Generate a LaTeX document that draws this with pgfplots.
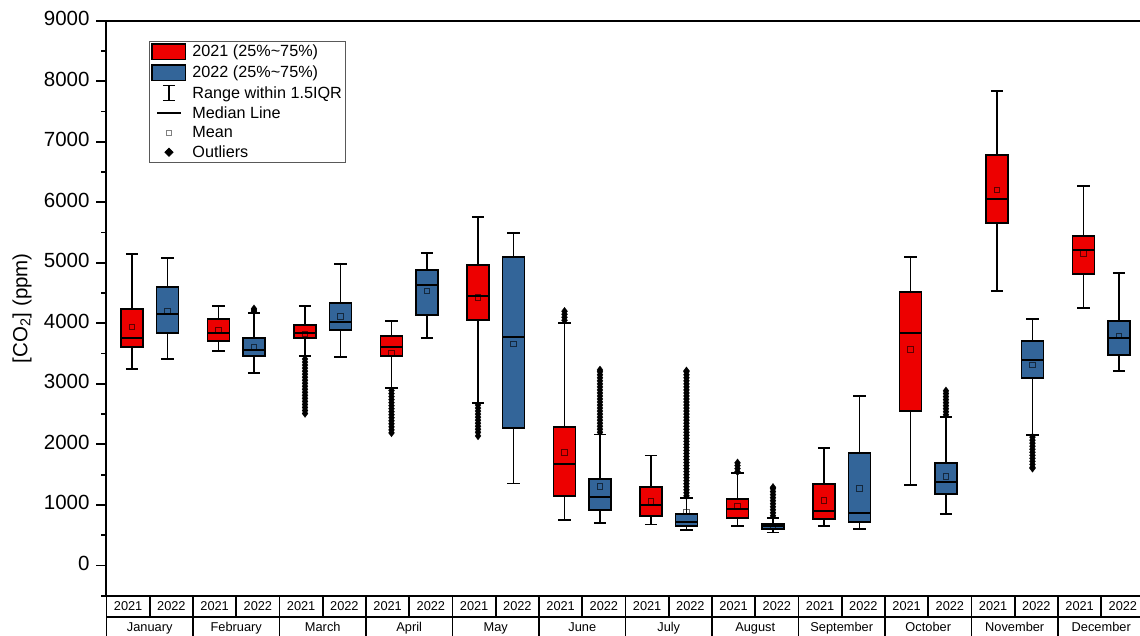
\documentclass[border=0pt]{standalone}
\usepackage{fontspec}
\setmainfont{Liberation Sans}
\usepackage{pgfplots}
\pgfplotsset{compat=1.18}

\definecolor{red21}{RGB}{237,0,0}
\definecolor{blue22}{RGB}{51,101,153}

\pgfplotsset{
  outl/.style={forget plot, only marks, mark=diamond*, mark size=4pt,
    mark options={fill=black, draw=black, line width=0.2pt}},
}

% one box: fill colour, position, lower whisker, Q1, median, Q3, upper whisker, mean
\newcommand{\bx}[8]{%
  \pgfmathsetmacro{\bL}{#2-0.255}\pgfmathsetmacro{\bR}{#2+0.255}%
  \pgfmathsetmacro{\wL}{#2-0.14}\pgfmathsetmacro{\wR}{#2+0.14}%
  \edef\doit{%
    \noexpand\addplot[forget plot, black, line width=1.8pt] coordinates {(#2,#3) (#2,#4)};
    \noexpand\addplot[forget plot, black, line width=1.8pt] coordinates {(#2,#6) (#2,#7)};
    \noexpand\addplot[forget plot, black, line width=1.8pt] coordinates {(\wL,#3) (\wR,#3)};
    \noexpand\addplot[forget plot, black, line width=1.8pt] coordinates {(\wL,#7) (\wR,#7)};
    \noexpand\addplot[forget plot, fill=#1, draw=black, line width=1.9pt]
      coordinates {(\bL,#4) (\bR,#4) (\bR,#6) (\bL,#6)} -- cycle;
    \noexpand\addplot[forget plot, black, line width=1.9pt] coordinates {(\bL,#5) (\bR,#5)};
    \noexpand\addplot[forget plot, only marks, mark=square, mark size=2.8pt,
      mark options={draw=black, draw opacity=0.6, fill=none, line width=0.7pt}]
      coordinates {(#2,#8)};
  }\doit}

\begin{document}
\begin{tikzpicture}
\begin{axis}[
  scale only axis, width=1038pt, height=575pt,
  xmin=0, xmax=24, ymin=-500, ymax=9000,
  clip=false,
  axis line style={line width=2pt},
  ytick={0,1000,...,9000},
  minor ytick={-500,500,...,8500},
  ytick pos=left,
  tick align=outside,
  major tick length=10pt, minor tick length=5pt,
  every tick/.style={black, line width=1.8pt},
  /pgf/number format/assume math mode=true,
  /pgf/number format/1000 sep={},
  yticklabel style={font=\fontsize{20.5}{24}\selectfont, xshift=-3.5pt},
  xtick={0.5,1.5,...,23.5},
  xticklabels={2021,2022,2021,2022,2021,2022,2021,2022,2021,2022,2021,2022,
               2021,2022,2021,2022,2021,2022,2021,2022,2021,2022,2021,2022},
  xtick style={draw=none},
  typeset ticklabels with strut,
  xticklabel style={anchor=center, yshift=-2.1pt, font=\fontsize{12.8}{15}\selectfont},
  extra x ticks={1,3,...,23},
  extra x tick labels={January,February,March,April,May,June,July,August,
                       September,October,November,December},
  extra x tick style={major tick length=0pt, xticklabel style={yshift=-30.7pt}},
  ylabel={[CO\textsubscript{2}] (ppm)},
  every axis y label/.style={at={(axis description cs:-0.0814,0.5)}, rotate=90,
    anchor=center, font=\fontsize{20.5}{24}\selectfont},
  legend style={at={(axis description cs:0.041,0.965)}, anchor=north west,
    draw=black!65, line width=0.8pt, fill=white,
    font=\fontsize{16.2}{19}\selectfont,
    inner xsep=2pt, inner ysep=2pt, row sep=3.6pt,
    cells={anchor=west}, nodes={inner sep=1pt}},
]

% legend
\addlegendimage{legend image code/.code={\path[draw=none] (0pt,-8pt) rectangle (40pt,8pt);
  \draw[fill=red21, draw=black, line width=1.6pt] (0.8pt,-7.8pt) rectangle (34.2pt,7.8pt);}}
\addlegendentry{2021 (25\%\textasciitilde75\%)}
\addlegendimage{legend image code/.code={\path[draw=none] (0pt,-8pt) rectangle (40pt,8pt);
  \draw[fill=blue22, draw=black, line width=1.6pt] (0.8pt,-7.8pt) rectangle (34.2pt,7.8pt);}}
\addlegendentry{2022 (25\%\textasciitilde75\%)}
\addlegendimage{legend image code/.code={\path[draw=none] (0pt,-8pt) rectangle (40pt,8pt);
  \draw[line width=1.6pt] (17.5pt,-7.5pt) -- (17.5pt,7.5pt)
    (11.5pt,7.5pt) -- (23.5pt,7.5pt) (11.5pt,-7.5pt) -- (23.5pt,-7.5pt);}}
\addlegendentry{Range within 1.5IQR}
\addlegendimage{legend image code/.code={\path[draw=none] (0pt,-8pt) rectangle (40pt,8pt);
  \draw[line width=1.6pt] (6pt,0pt) -- (30pt,0pt);}}
\addlegendentry{Median Line}
\addlegendimage{legend image code/.code={\path[draw=none] (0pt,-8pt) rectangle (40pt,8pt);
  \draw[black!50, line width=0.7pt] (15pt,-2.6pt) rectangle (20pt,2.6pt);}}
\addlegendentry{Mean}
\addlegendimage{legend image code/.code={\path[draw=none] (0pt,-8pt) rectangle (40pt,8pt);
  \fill[black] (17.5pt,-4pt) -- (21.5pt,0pt) -- (17.5pt,4pt) -- (13.5pt,0pt) -- cycle;}}
\addlegendentry{Outliers}

% January
\bx{red21}{0.59}{3240}{3603}{3752}{4231}{5150}{3939}
\bx{blue22}{1.41}{3410}{3835}{4159}{4600}{5084}{4208}
% February
\bx{red21}{2.59}{3542}{3712}{3845}{4071}{4286}{3894}
\bx{blue22}{3.41}{3184}{3460}{3559}{3752}{4176}{3608}
\addplot[outl] coordinates {(3.41,4200) (3.41,4220) (3.41,4240)};
% March
\bx{red21}{4.59}{3460}{3757}{3845}{3972}{4286}{3823}
\addplot[outl] coordinates {(4.59,3410) (4.59,3360) (4.59,3310) (4.59,3260)
  (4.59,3210) (4.59,3160) (4.59,3110) (4.59,3060) (4.59,3010) (4.59,2960)
  (4.59,2910) (4.59,2860) (4.59,2810) (4.59,2760) (4.59,2710) (4.59,2660)
  (4.59,2610) (4.59,2560) (4.59,2510)};
\bx{blue22}{5.41}{3443}{3884}{4021}{4331}{4980}{4116}
% April
\bx{red21}{6.59}{2936}{3455}{3603}{3795}{4033}{3514}
\addplot[outl] coordinates {(6.59,2890) (6.59,2840) (6.59,2790) (6.59,2740)
  (6.59,2690) (6.59,2640) (6.59,2590) (6.59,2540) (6.59,2490) (6.59,2440)
  (6.59,2390) (6.59,2340) (6.59,2290) (6.59,2240) (6.59,2190)};
\bx{blue22}{7.41}{3752}{4137}{4638}{4876}{5157}{4539}
% May
\bx{red21}{8.59}{2688}{4050}{4456}{4959}{5762}{4430}
\addplot[outl] coordinates {(8.59,2650) (8.59,2600) (8.59,2550) (8.59,2500)
  (8.59,2450) (8.59,2400) (8.59,2350) (8.59,2300) (8.59,2250) (8.59,2200)
  (8.59,2140)};
\bx{blue22}{9.41}{1355}{2274}{3774}{5101}{5493}{3658}
% June
\bx{red21}{10.59}{754}{1140}{1674}{2286}{4010}{1868}
\addplot[outl] coordinates {(10.59,4050) (10.59,4100) (10.59,4150) (10.59,4200)};
\bx{blue22}{11.41}{699}{919}{1124}{1426}{2165}{1311}
\addplot[outl] coordinates {(11.41,2200) (11.41,2250) (11.41,2300) (11.41,2350)
  (11.41,2400) (11.41,2450) (11.41,2500) (11.41,2550) (11.41,2600) (11.41,2650)
  (11.41,2700) (11.41,2750) (11.41,2800) (11.41,2850) (11.41,2900) (11.41,2950)
  (11.41,3000) (11.41,3050) (11.41,3100) (11.41,3150) (11.41,3200) (11.41,3230)};
% July
\bx{red21}{12.59}{678}{810}{997}{1299}{1818}{1063}
\bx{blue22}{13.41}{583}{650}{711}{843}{1117}{886}
\addplot[outl] coordinates {(13.41,1150) (13.41,1200) (13.41,1250) (13.41,1300)
  (13.41,1350) (13.41,1400) (13.41,1450) (13.41,1500) (13.41,1550) (13.41,1600)
  (13.41,1650) (13.41,1700) (13.41,1750) (13.41,1800) (13.41,1850) (13.41,1900)
  (13.41,1950) (13.41,2000) (13.41,2050) (13.41,2100) (13.41,2150) (13.41,2200)
  (13.41,2250) (13.41,2300) (13.41,2350) (13.41,2400) (13.41,2450) (13.41,2500)
  (13.41,2550) (13.41,2600) (13.41,2650) (13.41,2700) (13.41,2750) (13.41,2800)
  (13.41,2850) (13.41,2900) (13.41,2950) (13.41,3000) (13.41,3050) (13.41,3100)
  (13.41,3150) (13.41,3200) (13.41,3215)};
% August
\bx{red21}{14.59}{650}{782}{936}{1091}{1521}{985}
\addplot[outl] coordinates {(14.59,1550) (14.59,1600) (14.59,1650) (14.59,1695)};
\bx{blue22}{15.41}{545}{605}{650}{688}{782}{655}
\addplot[outl] coordinates {(15.41,820) (15.41,870) (15.41,920) (15.41,970)
  (15.41,1020) (15.41,1070) (15.41,1120) (15.41,1170) (15.41,1220) (15.41,1270)
  (15.41,1290)};
% September
\bx{red21}{16.59}{650}{760}{898}{1339}{1944}{1074}
\bx{blue22}{17.41}{605}{721}{860}{1856}{2803}{1273}
% October
\bx{red21}{18.59}{1333}{2545}{3845}{4512}{5101}{3575}
\bx{blue22}{19.41}{848}{1174}{1372}{1696}{2456}{1476}
\addplot[outl] coordinates {(19.41,2490) (19.41,2540) (19.41,2590) (19.41,2640)
  (19.41,2690) (19.41,2740) (19.41,2790) (19.41,2840) (19.41,2885)};
% November
\bx{red21}{20.59}{4529}{5653}{6050}{6787}{7835}{6203}
\bx{blue22}{21.41}{2159}{3091}{3388}{3707}{4066}{3316}
\addplot[outl] coordinates {(21.41,2120) (21.41,2070) (21.41,2020) (21.41,1970)
  (21.41,1920) (21.41,1870) (21.41,1820) (21.41,1770) (21.41,1720) (21.41,1670)
  (21.41,1620) (21.41,1605)};
% December
\bx{red21}{22.59}{4248}{4810}{5217}{5448}{6274}{5157}
\bx{blue22}{23.41}{3207}{3471}{3757}{4033}{4831}{3795}

% category table under the axis
\pgfplotsinvokeforeach{0,...,24}{
  \draw[line width=1.8pt] (axis cs:#1,-500) -- ++(0pt,-21.3pt);}
\pgfplotsinvokeforeach{0,2,...,24}{
  \draw[line width=1.8pt] ([yshift=-21.3pt]axis cs:#1,-500) -- ++(0pt,-30pt);}
\draw[line width=1.8pt] ([yshift=-21.3pt]axis cs:0,-500) -- ([yshift=-21.3pt]axis cs:24,-500);
\end{axis}
\pgfresetboundingbox
\path[use as bounding box] (-106.5pt,-39.3pt) rectangle (1033.5pt,595.7pt);
\end{tikzpicture}
\end{document}
